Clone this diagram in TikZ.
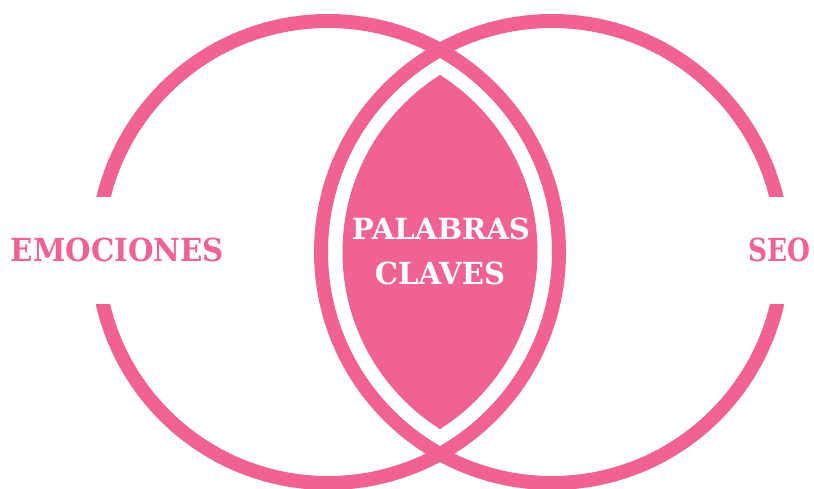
\documentclass[tikz,border=0pt]{standalone}
\usepackage{fontspec}
\setmainfont{DejaVu Serif}
\usepackage{graphicx}
\definecolor{rosa}{RGB}{240,98,146}
\begin{document}
\begin{tikzpicture}[x=1pt,y=-1pt,
  ring/.style={draw=rosa,line width=14pt},
  gap/.style={fill=white,draw=none},
  lbl/.style={inner sep=0pt,outer sep=0pt,font=\bfseries}]
\useasboundingbox (0,0) rectangle (814,488);
\fill[white] (0,0) rectangle (814,488);
% filled lens
\begin{scope}
  \clip (328,252) circle (209.5pt);
  \fill[rosa] (552,252) circle (209.5pt);
\end{scope}
% rings
\draw[ring] (328,252) circle (231pt);
\draw[ring] (552,252) circle (231pt);
% gaps for the side labels
\fill[gap] (80,197) rectangle (125,304);
\fill[gap] (755,197) rectangle (805,304);
% labels
\node[lbl,text=rosa] (emo) at (117.5,250) {\resizebox*{213pt}{24pt}{EMOCIONES}};
\node[lbl,text=rosa] (seo) at (779,250) {\resizebox*{62pt}{24pt}{SEO}};
\node[lbl,text=white] (pal) at (441,229) {\resizebox*{178pt}{22pt}{PALABRAS}};
\node[lbl,text=white] (cla) at (440,273.5) {\resizebox*{130pt}{23pt}{CLAVES}};
\end{tikzpicture}
\end{document}
